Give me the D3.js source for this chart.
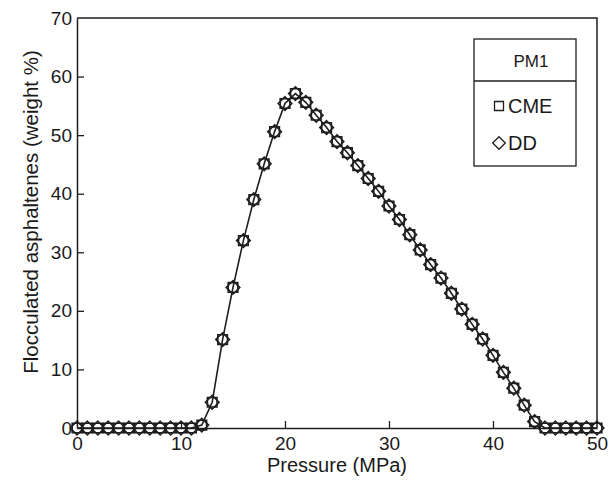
<!DOCTYPE html>
<html>
<head>
<meta charset="utf-8">
<script src="https://cdn.jsdelivr.net/npm/d3@7"></script>
<style>
  html, body { margin: 0; padding: 0; background: #fff; }
  svg { display: block; }
  text { font-family: "Liberation Sans", Arial, sans-serif; fill: #1a1a1a; }
</style>
</head>
<body>
<svg id="chart" width="609" height="480"></svg>
<script>
// Data
const pressure = d3.range(0, 51); // 0..50 MPa, step 1
const cme = [0,0,0,0,0,0,0,0,0,0,0,0,0.5,4.4,15.1,24.0,32.0,39.0,45.1,50.6,55.4,57.1,55.6,53.4,51.3,48.9,47.0,44.8,42.6,40.4,37.9,35.6,33.0,30.4,27.9,25.6,23.0,20.3,17.7,15.2,12.4,9.5,6.8,3.9,1.1,0,0,0,0,0,0];
const dd  = [0,0,0,0,0,0,0,0,0,0,0,0,0.5,4.4,15.1,24.0,32.0,39.0,45.1,50.6,55.4,57.1,55.6,53.4,51.3,48.9,47.0,44.8,42.6,40.4,37.9,35.6,33.0,30.4,27.9,25.6,23.0,20.3,17.7,15.2,12.4,9.5,6.8,3.9,1.1,0,0,0,0,0,0];
const xTicks = [0,10,20,30,40,50];
const yTicks = [0,10,20,30,40,50,60,70];
const legendTitle = "PM1";
const seriesNames = ["CME","DD"];

const svg = d3.select("#chart");
const m = { left: 77, right: 597, top: 18, bottom: 428 };
const x = d3.scaleLinear().domain([0,50]).range([m.left, m.right]);
const y = d3.scaleLinear().domain([0,70]).range([m.bottom, m.top]);
const ink = "#1e1e1e";

// frame (top and right)
svg.append("path")
  .attr("d", `M${m.left},${m.top}H${m.right}V${m.bottom}`)
  .attr("fill","none").attr("stroke",ink).attr("stroke-width",1.5);

// axes
const xAxis = svg.append("g").attr("transform",`translate(0,${m.bottom})`)
  .call(d3.axisBottom(x).tickValues(xTicks).tickSizeInner(-7).tickSizeOuter(0).tickPadding(9));
const yAxis = svg.append("g").attr("transform",`translate(${m.left},0)`)
  .call(d3.axisLeft(y).tickValues(yTicks).tickSizeInner(-7).tickSizeOuter(0).tickPadding(5));
[xAxis, yAxis].forEach(g => {
  g.select(".domain").attr("stroke",ink).attr("stroke-width",1.5);
  g.selectAll(".tick line").attr("stroke",ink).attr("stroke-width",1.3);
  g.selectAll(".tick text").attr("font-size",19).attr("fill",ink)
    .attr("font-family","'Liberation Sans', Arial, sans-serif");
});
yAxis.selectAll(".tick line").filter(d => d === 0 || d === 70).remove();
xAxis.selectAll(".tick line").filter(d => d === 0 || d === 50).remove();

// axis titles
svg.append("text").attr("x",(m.left+m.right)/2).attr("y",472)
  .attr("text-anchor","middle").attr("font-size",20).text("Pressure (MPa)");
svg.append("text").attr("transform",`translate(38,212) rotate(-90)`)
  .attr("text-anchor","middle").attr("font-size",20.5).text("Flocculated asphaltenes (weight %)");

// line
const line = d3.line().x((d,i)=>x(pressure[i])).y(d=>y(d));
svg.append("path").datum(cme).attr("d",line)
  .attr("fill","none").attr("stroke",ink).attr("stroke-width",1.6);

// markers
const sq = 4.8, dm = 6.8;
const squarePath = `M${-sq},${-sq}H${sq}V${sq}H${-sq}Z`;
const diamondPath = `M0,${-dm}L${dm},0L0,${dm}L${-dm},0Z`;
svg.append("g").selectAll("path").data(cme).join("path")
  .attr("transform",(d,i)=>`translate(${x(pressure[i])},${y(d)})`)
  .attr("d",squarePath).attr("fill","none").attr("stroke",ink).attr("stroke-width",1.6);
svg.append("g").selectAll("path").data(dd).join("path")
  .attr("transform",(d,i)=>`translate(${x(pressure[i])},${y(d)})`)
  .attr("d",diamondPath).attr("fill","none").attr("stroke",ink).attr("stroke-width",1.6);

// legend
const L = { x0: 474, x1: 576, y0: 39, y1: 166, div: 81 };
svg.append("rect").attr("x",L.x0).attr("y",L.y0).attr("width",L.x1-L.x0).attr("height",L.y1-L.y0)
  .attr("fill","#fff").attr("stroke",ink).attr("stroke-width",1.3);
svg.append("line").attr("x1",L.x0).attr("x2",L.x1).attr("y1",L.div).attr("y2",L.div)
  .attr("stroke",ink).attr("stroke-width",1.3);
svg.append("text").attr("x",531).attr("y",67).attr("text-anchor","middle")
  .attr("font-size",17).text(legendTitle);
const legY = [106, 143];
const legShapes = [`M-4.5,-4.5H4.5V4.5H-4.5Z`, `M0,-6.3L6.3,0L0,6.3L-6.3,0Z`];
seriesNames.forEach((n,i) => {
  svg.append("path").attr("transform",`translate(499,${legY[i]})`).attr("d",legShapes[i])
    .attr("fill","none").attr("stroke",ink).attr("stroke-width",1.3);
  svg.append("text").attr("x",508).attr("y",legY[i]+7).attr("font-size",20).text(n);
});
</script>
</body>
</html>
